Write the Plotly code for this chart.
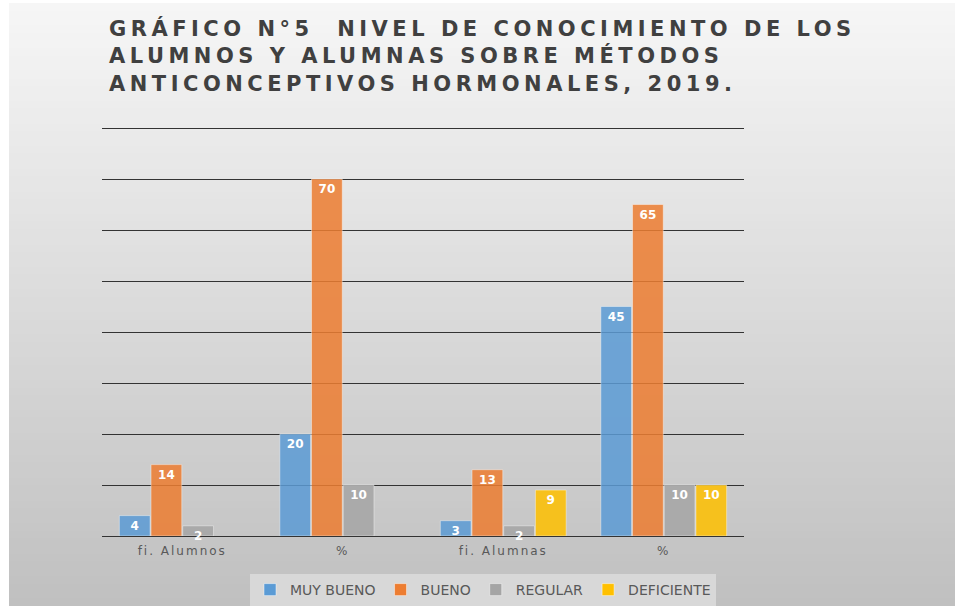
import plotly.graph_objects as go

categories = ["fi. Alumnos", "%", "fi. Alumnas", "%"]
muy_bueno = [4, 20, 3, 45]
bueno = [14, 70, 13, 65]
regular = [2, 10, 2, 10]
deficiente = [None, None, 9, 10]

series_names = ["MUY BUENO", "BUENO", "REGULAR", "DEFICIENTE"]
series_values = [muy_bueno, bueno, regular, deficiente]
colors = ["#5B9BD5", "#ED7D31", "#A5A5A5", "#FFC000"]

title_lines = ["GRÁFICO N°5  NIVEL DE CONOCIMIENTO DE LOS",
               "ALUMNOS Y ALUMNAS SOBRE MÉTODOS",
               "ANTICONCEPTIVOS HORMONALES, 2019."]

x_pos = list(range(len(categories)))

fig = go.Figure()
for name, vals, col in zip(series_names, series_values, colors):
    fig.add_trace(go.Bar(
        name=name, x=x_pos, y=vals,
        marker=dict(color=col, opacity=0.85,
                    line=dict(color="rgba(255,255,255,0.45)", width=1)),
        text=[("" if v is None else str(v)) for v in vals],
        textposition="inside", insidetextanchor="end", constraintext="none",
        textfont=dict(family="DejaVu Sans", size=12, color="white", weight="bold"),
        textangle=0, cliponaxis=False,
    ))

# gradient background (paper-referenced strips, each reaching to the bottom)
W, H = 955, 606
L, R, T, B = 102, 211, 126, 70
pw, ph = W - L - R, H - T - B
def px2x(p): return (p - L) / pw
def py2y(p): return (H - B - p) / ph
shapes = []
n = 80
top_px, bot_px = 3, 606
for i in range(n):
    y0p = top_px + (bot_px - top_px) * i / n
    t = i / (n - 1)
    c = int(round(246 - (246 - 192) * t))
    shapes.append(dict(type="rect", xref="paper", yref="paper",
                       x0=px2x(9), x1=px2x(955), y0=py2y(bot_px), y1=py2y(y0p),
                       fillcolor=f"rgb({c},{c},{c})", line=dict(width=0), layer="below"))

annotations = [dict(
    text="<br>".join(title_lines), xref="paper", yref="paper",
    x=px2x(107), xanchor="left", y=py2y(14), yanchor="top", align="left",
    showarrow=False,
    font=dict(family="DejaVu Sans", size=21, color="#404040", weight="bold"),
)]

fig.update_layout(
    width=W, height=H,
    margin=dict(l=L, r=R, t=T, b=B, pad=0, autoexpand=False),
    paper_bgcolor="white", plot_bgcolor="rgba(0,0,0,0)",
    shapes=shapes, annotations=annotations,
    barmode="group", bargap=0.21, bargroupgap=0.03,
    xaxis=dict(tickvals=x_pos, ticktext=categories, range=[-0.5, 3.5],
               showgrid=False, zeroline=False, showline=False, ticks="",
               ticklabelstandoff=6,
               tickfont=dict(family="DejaVu Sans", size=12, color="#595959")),
    yaxis=dict(range=[0, 80.4], tickvals=[0, 10, 20, 30, 40, 50, 60, 70, 80],
               showticklabels=False, ticks="",
               showgrid=True, gridcolor="#333333", gridwidth=1.3,
               zeroline=True, zerolinecolor="#333333", zerolinewidth=1.3, showline=False),
    legend=dict(orientation="h", x=px2x(250), xanchor="left", y=py2y(574), yanchor="top",
                bgcolor="rgba(218,218,218,0.9)",
                font=dict(family="DejaVu Sans", size=14, color="#595959"),
                traceorder="normal", itemwidth=30),
    showlegend=True,
)

post = """
document.body.style.margin='0px';
var st=document.createElement('style');
st.textContent='text.annotation-text{letter-spacing:4.5px;} g.xtick text{letter-spacing:2px;}';
document.head.appendChild(st);
"""
fig.write_html("out.html", post_script=post, config={"displayModeBar": False})
